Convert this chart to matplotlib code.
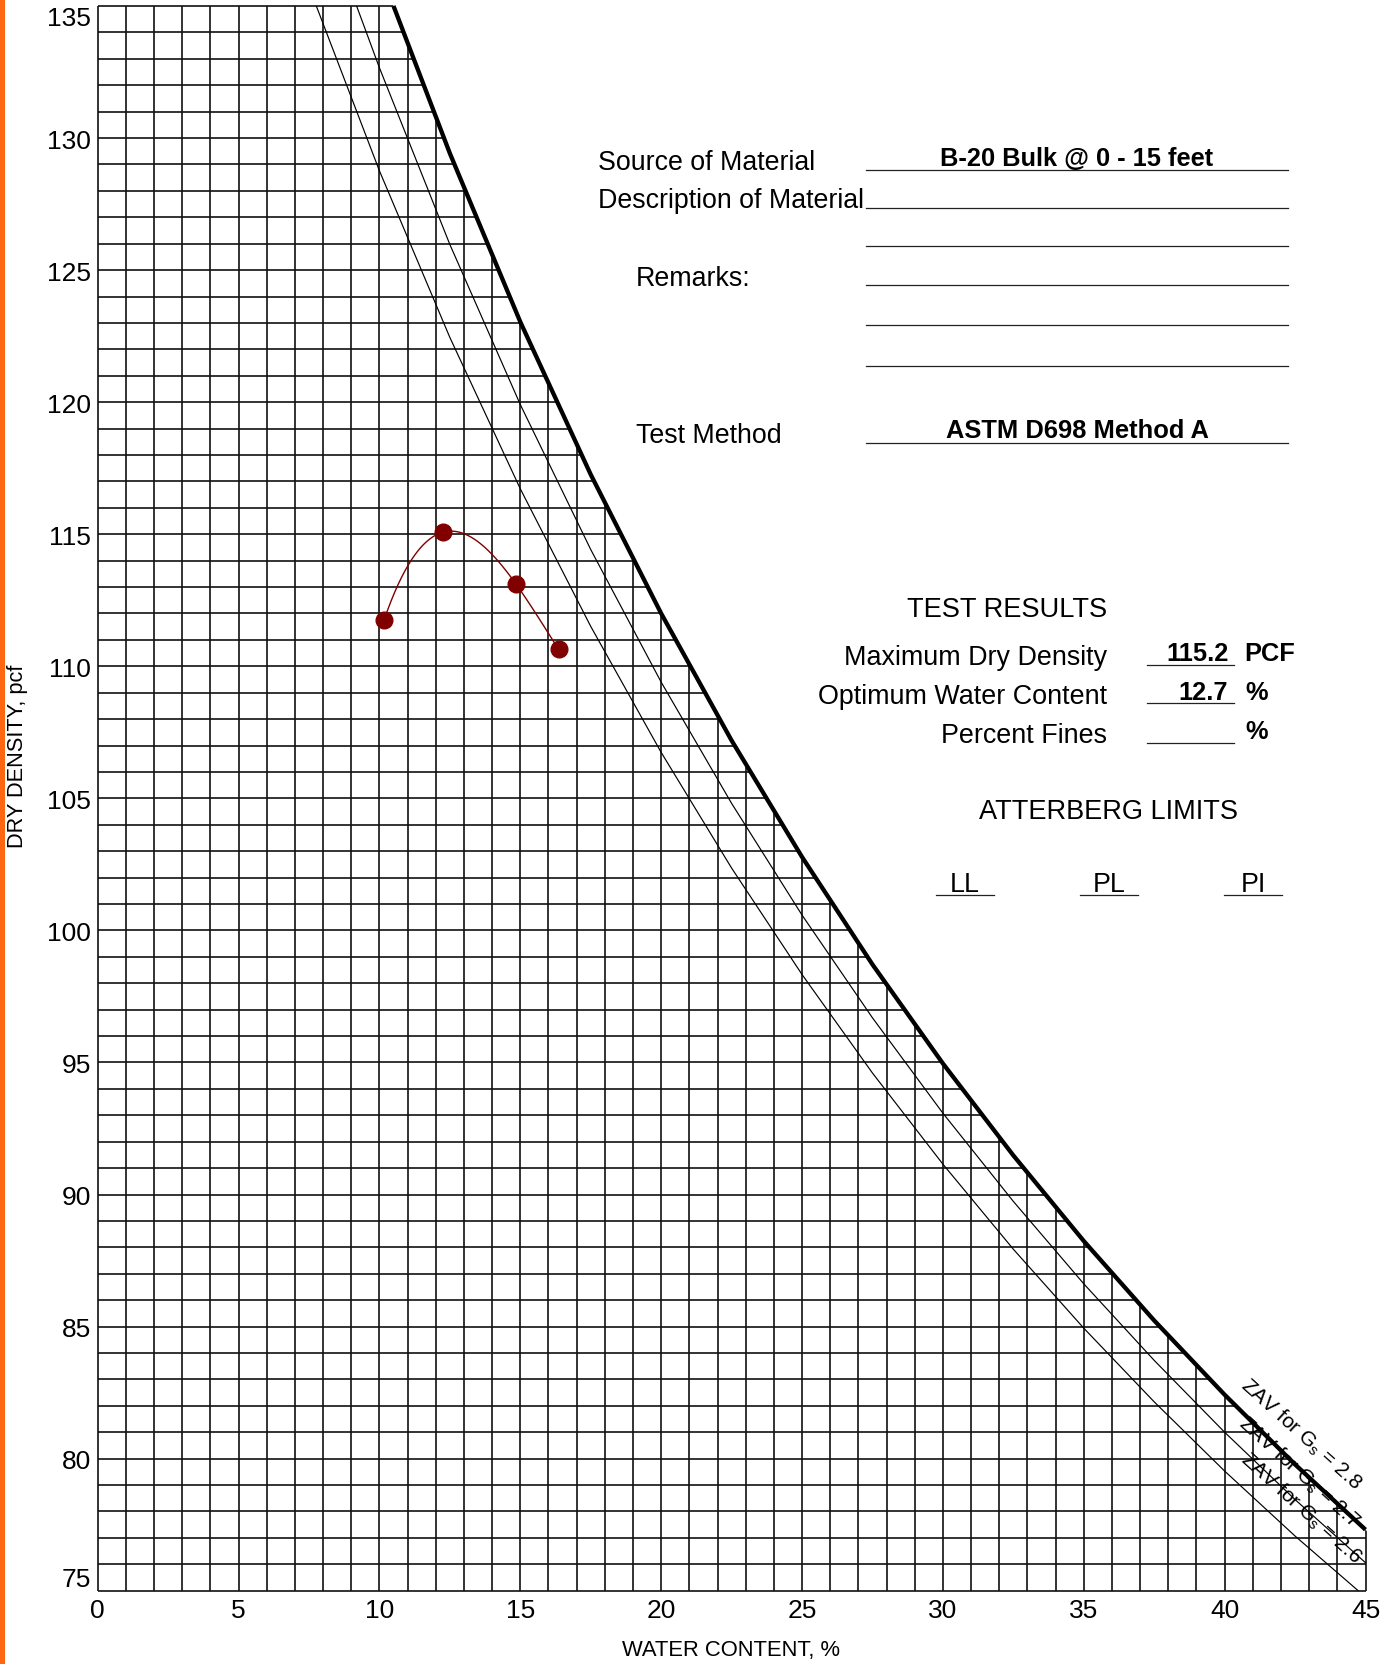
import numpy as np
import matplotlib
matplotlib.use("Agg")
import matplotlib.pyplot as plt
from matplotlib.patches import Polygon, Rectangle
from matplotlib.lines import Line2D

plt.rcParams['font.family'] = ['Liberation Sans', 'DejaVu Sans']
plt.rcParams['mathtext.fontset'] = 'custom'
plt.rcParams['mathtext.rm'] = 'Liberation Sans'
plt.rcParams['mathtext.it'] = 'Liberation Sans:italic'

# ---------------- data ----------------
# compaction test points (water content %, dry density pcf)
test_w = [10.17, 12.27, 14.85, 16.36]
test_d = [111.77, 115.08, 113.11, 110.64]

# zero-air-voids curves
zav28_w = [10.5, 12.5, 15, 17.5, 20, 22.5, 25, 27.5, 30, 32.5, 35, 37.5, 40, 42.5, 45]
zav28_d = [135.0, 129.42, 123.04, 117.26, 112.00, 107.19, 102.78, 98.71, 94.96,
           91.48, 88.24, 85.23, 82.42, 79.78, 77.31]
zav27_w = [9.19, 10, 12.5, 15, 17.5, 20, 22.5, 25, 27.5, 30, 32.5, 35, 37.5, 40, 42.5, 45]
zav27_d = [135.0, 132.66, 125.97, 119.91, 114.42, 109.40, 104.81, 100.58, 96.69,
           93.08, 89.74, 86.62, 83.72, 81.00, 78.45, 76.06]
zav26_w = [7.76, 10, 12.5, 15, 17.5, 20, 22.5, 25, 27.5, 30, 32.5, 35, 37.5, 40, 42.5, 45]
zav26_d = [135.0, 128.76, 122.45, 116.72, 111.51, 106.74, 102.36, 98.33, 94.60,
           91.15, 87.93, 84.94, 82.15, 79.53, 77.07, 74.76]

x_ticks = [0, 5, 10, 15, 20, 25, 30, 35, 40, 45]
y_ticks = [75, 80, 85, 90, 95, 100, 105, 110, 115, 120, 125, 130, 135]

source_material = "B-20 Bulk @ 0 - 15 feet"
test_method = "ASTM D698 Method A"
max_dry_density = "115.2"
opt_water = "12.7"

# ---------------- figure ----------------
W, H = 1397, 1665
fig = plt.figure(figsize=(W / 100, H / 100), dpi=100)

x0_px, x1_px = 97.7, 1365.5
ytop_px, ybot_px = 7.0, 1591.7
ax = fig.add_axes([x0_px / W, 1 - ybot_px / H, (x1_px - x0_px) / W, (ybot_px - ytop_px) / H])
ax.set_xlim(0, 45)
ax.set_ylim(75, 135)
for s in ax.spines.values():
    s.set_visible(False)

# clip region under the Gs=2.8 ZAV curve
clip_verts = [(-1, 136.0), (10.17, 136.0)] + list(zip(zav28_w, zav28_d)) + \
             [(46, 76.3), (46, 74), (-1, 74)]
clip_poly = Polygon(clip_verts, closed=True, transform=ax.transData)

grid_color = '#111111'
vl = ax.vlines(np.arange(0, 46), 75, 135, colors=grid_color, lw=1.2)
hl = ax.hlines(np.arange(75, 136), 0, 45, colors=grid_color, lw=1.2)
for lc in (vl, hl):
    lc.set_clip_path(clip_poly)
    lc.set_clip_box(fig.bbox)

# ZAV lines
ax.plot(zav28_w, zav28_d, color='black', lw=3.1, clip_on=False, solid_capstyle='butt')
ax.plot(zav27_w, zav27_d, color='black', lw=0.85)
ax.plot(zav26_w, zav26_d, color='black', lw=0.85)

# compaction curve
coef = np.polyfit(test_w, test_d, 3)
wc = np.linspace(min(test_w), max(test_w), 200)
ax.plot(wc, np.polyval(coef, wc), color='#800000', lw=1.0)
ax.plot(test_w, test_d, 'o', color='#800000', ms=12, zorder=5)

# ticks
ax.set_xticks(x_ticks)
ax.set_yticks(y_ticks)
ax.tick_params(axis='both', length=0, labelsize=19)
ax.tick_params(axis='y', pad=5)
ax.tick_params(axis='x', pad=5)
ylabels = ax.get_yticklabels()
ylabels[0].set_va('bottom')
ylabels[-1].set_va('top')


def fx(px):
    return px / W


def fy(py):
    return 1 - py / H


# axis labels
fig.text(fx(18), fy(756), "DRY DENSITY, pcf", rotation=90, ha='center', va='center', fontsize=15.7)
fig.text(fx(731), fy(1651), "WATER CONTENT, %", ha='center', va='center', fontsize=15.8)

# ZAV labels
fig.text(fx(1301), fy(1434), r"ZAV for G$_\mathregular{s}$ = 2.8", rotation=-42,
         rotation_mode='anchor', ha='center', va='center', fontsize=15)
fig.text(fx(1299), fy(1472), r"ZAV for G$_\mathregular{s}$ = 2.7", rotation=-42,
         rotation_mode='anchor', ha='center', va='center', fontsize=15)
fig.text(fx(1301), fy(1508), r"ZAV for G$_\mathregular{s}$ = 2.6", rotation=-42,
         rotation_mode='anchor', ha='center', va='center', fontsize=15)


def hline(xa, xb, y, lw=0.9):
    fig.add_artist(Line2D([fx(xa), fx(xb)], [fy(y), fy(y)], color='#222222', lw=lw,
                          transform=fig.transFigure))


# header panel
fig.text(fx(597.7), fy(170), "Source of Material", fontsize=19.3, va='baseline')
fig.text(fx(1077), fy(166), source_material, fontsize=18.3, fontweight='bold', ha='center', va='baseline')
fig.text(fx(597.7), fy(208.3), "Description of Material", fontsize=19.3, va='baseline')
fig.text(fx(636), fy(286), "Remarks:", fontsize=19.3, va='baseline')
fig.text(fx(636), fy(443.3), "Test Method", fontsize=19.3, va='baseline')
fig.text(fx(1077), fy(438.3), test_method, fontsize=18.4, fontweight='bold', ha='center', va='baseline')
for yy in [171, 209.3, 247.3, 286, 326, 366.7, 444]:
    hline(866, 1288, yy)

# test results
fig.text(fx(1107), fy(617.3), "TEST RESULTS", fontsize=19.6, ha='right', va='baseline')
fig.text(fx(1107), fy(665), "Maximum Dry Density", fontsize=19.4, ha='right', va='baseline')
fig.text(fx(1107), fy(704), "Optimum Water Content", fontsize=19.4, ha='right', va='baseline')
fig.text(fx(1107), fy(743.3), "Percent Fines", fontsize=19.4, ha='right', va='baseline')
for yy in [666, 704.3, 744]:
    hline(1147.3, 1234, yy)
fig.text(fx(1228.3), fy(660.7), max_dry_density, fontsize=18.3, fontweight='bold', ha='right', va='baseline')
fig.text(fx(1244), fy(660.7), "PCF", fontsize=18.3, fontweight='bold', va='baseline')
fig.text(fx(1228.3), fy(700), opt_water, fontsize=18.3, fontweight='bold', ha='right', va='baseline')
fig.text(fx(1245), fy(700), "%", fontsize=18.3, fontweight='bold', va='baseline')
fig.text(fx(1245), fy(739.3), "%", fontsize=18.3, fontweight='bold', va='baseline')

# Atterberg limits
fig.text(fx(1108.3), fy(819.3), "ATTERBERG LIMITS", fontsize=19.5, ha='center', va='baseline')
for cx, lbl, xa, xb in [(965, "LL", 936, 994), (1109, "PL", 1080, 1138), (1253.3, "PI", 1224, 1282)]:
    fig.text(fx(cx), fy(891.7), lbl, fontsize=19.3, ha='center', va='baseline')
    hline(xa, xb, 896)

# orange stripe on left edge
fig.add_artist(Rectangle((0, 0), 5 / W, 1, color='#FF6611', transform=fig.transFigure, lw=0))

fig.savefig("out.png", dpi=100)
